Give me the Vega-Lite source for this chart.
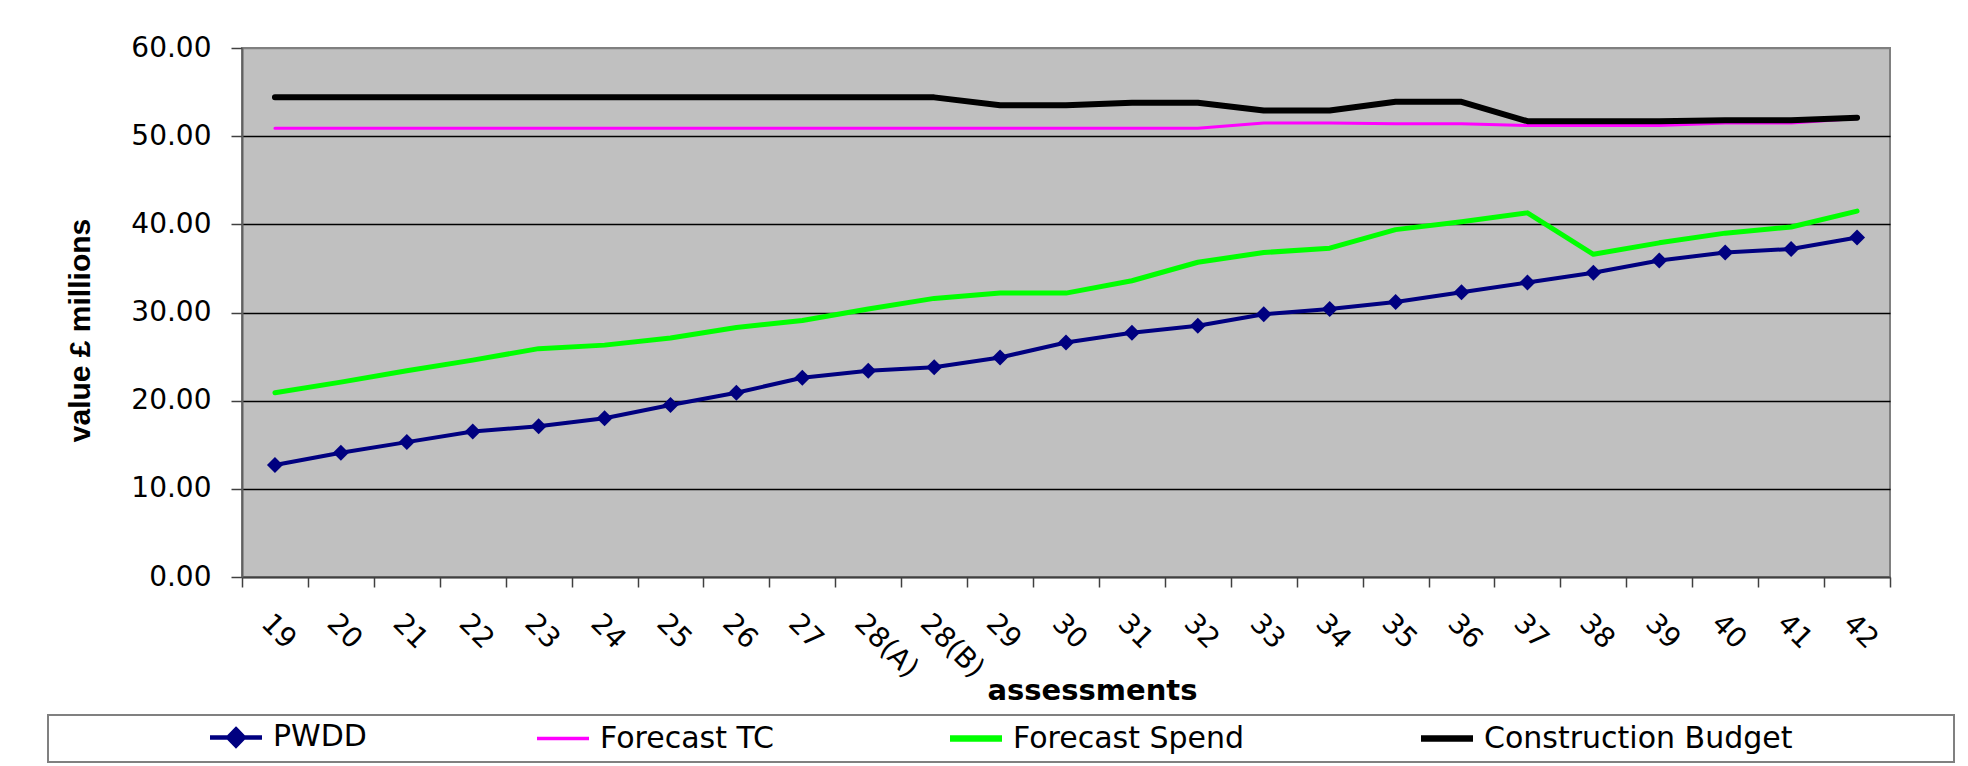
{
  "$schema": "https://vega.github.io/schema/vega-lite/v6.json",
  "width": 1648,
  "height": 529,
  "autosize": {"type": "none"},
  "padding": {"left": 242, "top": 48, "right": 78, "bottom": 189},
  "background": "white",
  "config": {
    "font": "DejaVu Sans",
    "view": {"fill": "#C0C0C0", "stroke": "#808080", "strokeWidth": 2}
  },
  "data": {
    "values": [
      {"a": "19", "s": "PWDD", "v": 12.7}, {"a": "20", "s": "PWDD", "v": 14.1}, {"a": "21", "s": "PWDD", "v": 15.3}, {"a": "22", "s": "PWDD", "v": 16.5}, {"a": "23", "s": "PWDD", "v": 17.1}, {"a": "24", "s": "PWDD", "v": 18.0}, {"a": "25", "s": "PWDD", "v": 19.5}, {"a": "26", "s": "PWDD", "v": 20.9}, {"a": "27", "s": "PWDD", "v": 22.6}, {"a": "28(A)", "s": "PWDD", "v": 23.4}, {"a": "28(B)", "s": "PWDD", "v": 23.8}, {"a": "29", "s": "PWDD", "v": 24.9}, {"a": "30", "s": "PWDD", "v": 26.6}, {"a": "31", "s": "PWDD", "v": 27.7}, {"a": "32", "s": "PWDD", "v": 28.5}, {"a": "33", "s": "PWDD", "v": 29.8}, {"a": "34", "s": "PWDD", "v": 30.4}, {"a": "35", "s": "PWDD", "v": 31.2}, {"a": "36", "s": "PWDD", "v": 32.3}, {"a": "37", "s": "PWDD", "v": 33.4}, {"a": "38", "s": "PWDD", "v": 34.5}, {"a": "39", "s": "PWDD", "v": 35.9}, {"a": "40", "s": "PWDD", "v": 36.8}, {"a": "41", "s": "PWDD", "v": 37.2}, {"a": "42", "s": "PWDD", "v": 38.5},
      {"a": "19", "s": "Forecast TC", "v": 50.9}, {"a": "20", "s": "Forecast TC", "v": 50.9}, {"a": "21", "s": "Forecast TC", "v": 50.9}, {"a": "22", "s": "Forecast TC", "v": 50.9}, {"a": "23", "s": "Forecast TC", "v": 50.9}, {"a": "24", "s": "Forecast TC", "v": 50.9}, {"a": "25", "s": "Forecast TC", "v": 50.9}, {"a": "26", "s": "Forecast TC", "v": 50.9}, {"a": "27", "s": "Forecast TC", "v": 50.9}, {"a": "28(A)", "s": "Forecast TC", "v": 50.9}, {"a": "28(B)", "s": "Forecast TC", "v": 50.9}, {"a": "29", "s": "Forecast TC", "v": 50.9}, {"a": "30", "s": "Forecast TC", "v": 50.9}, {"a": "31", "s": "Forecast TC", "v": 50.9}, {"a": "32", "s": "Forecast TC", "v": 50.9}, {"a": "33", "s": "Forecast TC", "v": 51.5}, {"a": "34", "s": "Forecast TC", "v": 51.5}, {"a": "35", "s": "Forecast TC", "v": 51.4}, {"a": "36", "s": "Forecast TC", "v": 51.4}, {"a": "37", "s": "Forecast TC", "v": 51.2}, {"a": "38", "s": "Forecast TC", "v": 51.2}, {"a": "39", "s": "Forecast TC", "v": 51.2}, {"a": "40", "s": "Forecast TC", "v": 51.5}, {"a": "41", "s": "Forecast TC", "v": 51.5}, {"a": "42", "s": "Forecast TC", "v": 52.0},
      {"a": "19", "s": "Forecast Spend", "v": 20.9}, {"a": "20", "s": "Forecast Spend", "v": 22.1}, {"a": "21", "s": "Forecast Spend", "v": 23.4}, {"a": "22", "s": "Forecast Spend", "v": 24.6}, {"a": "23", "s": "Forecast Spend", "v": 25.9}, {"a": "24", "s": "Forecast Spend", "v": 26.3}, {"a": "25", "s": "Forecast Spend", "v": 27.1}, {"a": "26", "s": "Forecast Spend", "v": 28.3}, {"a": "27", "s": "Forecast Spend", "v": 29.1}, {"a": "28(A)", "s": "Forecast Spend", "v": 30.4}, {"a": "28(B)", "s": "Forecast Spend", "v": 31.6}, {"a": "29", "s": "Forecast Spend", "v": 32.2}, {"a": "30", "s": "Forecast Spend", "v": 32.2}, {"a": "31", "s": "Forecast Spend", "v": 33.6}, {"a": "32", "s": "Forecast Spend", "v": 35.7}, {"a": "33", "s": "Forecast Spend", "v": 36.8}, {"a": "34", "s": "Forecast Spend", "v": 37.3}, {"a": "35", "s": "Forecast Spend", "v": 39.4}, {"a": "36", "s": "Forecast Spend", "v": 40.3}, {"a": "37", "s": "Forecast Spend", "v": 41.3}, {"a": "38", "s": "Forecast Spend", "v": 36.6}, {"a": "39", "s": "Forecast Spend", "v": 37.9}, {"a": "40", "s": "Forecast Spend", "v": 39.0}, {"a": "41", "s": "Forecast Spend", "v": 39.7}, {"a": "42", "s": "Forecast Spend", "v": 41.5},
      {"a": "19", "s": "Construction Budget", "v": 54.4}, {"a": "20", "s": "Construction Budget", "v": 54.4}, {"a": "21", "s": "Construction Budget", "v": 54.4}, {"a": "22", "s": "Construction Budget", "v": 54.4}, {"a": "23", "s": "Construction Budget", "v": 54.4}, {"a": "24", "s": "Construction Budget", "v": 54.4}, {"a": "25", "s": "Construction Budget", "v": 54.4}, {"a": "26", "s": "Construction Budget", "v": 54.4}, {"a": "27", "s": "Construction Budget", "v": 54.4}, {"a": "28(A)", "s": "Construction Budget", "v": 54.4}, {"a": "28(B)", "s": "Construction Budget", "v": 54.4}, {"a": "29", "s": "Construction Budget", "v": 53.5}, {"a": "30", "s": "Construction Budget", "v": 53.5}, {"a": "31", "s": "Construction Budget", "v": 53.8}, {"a": "32", "s": "Construction Budget", "v": 53.8}, {"a": "33", "s": "Construction Budget", "v": 52.9}, {"a": "34", "s": "Construction Budget", "v": 52.9}, {"a": "35", "s": "Construction Budget", "v": 53.9}, {"a": "36", "s": "Construction Budget", "v": 53.9}, {"a": "37", "s": "Construction Budget", "v": 51.7}, {"a": "38", "s": "Construction Budget", "v": 51.7}, {"a": "39", "s": "Construction Budget", "v": 51.7}, {"a": "40", "s": "Construction Budget", "v": 51.8}, {"a": "41", "s": "Construction Budget", "v": 51.8}, {"a": "42", "s": "Construction Budget", "v": 52.1}
    ]
  },
  "encoding": {
    "x": {
      "field": "a",
      "type": "nominal",
      "sort": null,
      "bandPosition": 0.5,
      "scale": {"type": "band", "paddingInner": 0, "paddingOuter": 0},
      "axis": {
        "title": "assessments",
        "titleFont": "DejaVu Sans",
        "titleFontSize": 29,
        "titleFontWeight": "bold",
        "titleColor": "black",
        "titleX": 850,
        "titleY": 122,
        "titleBaseline": "alphabetic",
        "labelAngle": 45,
        "labelAlign": "left",
        "labelBaseline": "top",
        "labelFontSize": 28,
        "labelColor": "black",
        "labelPadding": 22,
        "labelOverlap": false,
        "labelLimit": 0,
        "tickBand": "extent",
        "tickSize": 10,
        "tickColor": "#404040",
        "tickWidth": 1.5,
        "domainColor": "#404040",
        "domainWidth": 2,
        "grid": false
      }
    },
    "y": {
      "field": "v",
      "type": "quantitative",
      "scale": {"domain": [0, 60], "nice": false},
      "axis": {
        "title": "value £ millions",
        "titleFont": "Liberation Sans",
        "titleFontSize": 30,
        "titleFontWeight": "bold",
        "titleColor": "black",
        "titleAngle": -90,
        "titleBaseline": "middle",
        "titleX": -162,
        "titleY": 282,
        "values": [0, 10, 20, 30, 40, 50, 60],
        "format": ".2f",
        "labelFontSize": 28,
        "labelColor": "black",
        "labelPadding": 20,
        "tickSize": 11,
        "tickColor": "#404040",
        "tickWidth": 1.5,
        "domainColor": "#606060",
        "domainWidth": 2,
        "grid": true,
        "gridColor": {"condition": {"test": "datum.value === 60 || datum.value === 0", "value": "#808080"}, "value": "#000000"},
        "gridWidth": 1.5,
        "gridOpacity": 1
      }
    },
    "color": {
      "field": "s",
      "type": "nominal",
      "scale": {
        "domain": ["PWDD", "Forecast TC", "Forecast Spend", "Construction Budget"],
        "range": ["#000080", "#FF00FF", "#00FF00", "#000000"]
      },
      "legend": {
        "orient": "none",
        "direction": "horizontal",
        "legendX": -194,
        "legendY": 667,
        "title": "\u2800",
        "titleOrient": "left",
        "titleFontSize": 30,
        "titlePadding": 127,
        "padding": 7,
        "strokeColor": "#808080",
        "columnPadding": 163,
        "labelFontSize": 30,
        "labelColor": "black",
        "labelLimit": 0,
        "labelOffset": 22,
        "symbolOffset": 15,
        "symbolStrokeWidth": 2,
        "symbolType": "M-2,0L2,0",
        "symbolSize": 676,
        "labelExpr": "datum.value === 'Construction Budget' ? datum.label + '\u2800\u2800\u2800\u2800\u2800\u2800\u2800' : datum.label",
        "encode": {
          "legend": {"update": {"strokeWidth": {"value": 2}}},
          "symbols": {
            "update": {
              "shape": {"signal": "datum.value === 'PWDD' ? 'M-2,0L2,0M0,-0.62L0.6,0L0,0.62L-0.6,0Z' : 'M-2,0L2,0'"},
              "strokeWidth": {"signal": "datum.value === 'PWDD' ? 4.5 : datum.value === 'Forecast TC' ? 3.5 : 6.5"},
              "fill": {"signal": "datum.value === 'PWDD' ? '#000080' : 'transparent'"},
              "stroke": {"signal": "scale('color', datum.value)"},
              "opacity": {"value": 1},
              "size": {"value": 676}
            }
          }
        }
      }
    }
  },
  "layer": [
    {
      "transform": [{"filter": "datum.s === 'PWDD'"}],
      "mark": {"type": "line", "strokeWidth": 4, "strokeJoin": "round", "strokeCap": "round"}
    },
    {
      "transform": [{"filter": "datum.s === 'PWDD'"}],
      "mark": {"type": "point", "shape": "diamond", "filled": true, "size": 256, "opacity": 1}
    },
    {
      "transform": [{"filter": "datum.s === 'Forecast TC'"}],
      "mark": {"type": "line", "strokeWidth": 3, "strokeJoin": "round", "strokeCap": "round"}
    },
    {
      "transform": [{"filter": "datum.s === 'Forecast Spend'"}],
      "mark": {"type": "line", "strokeWidth": 5, "strokeJoin": "round", "strokeCap": "round"}
    },
    {
      "transform": [{"filter": "datum.s === 'Construction Budget'"}],
      "mark": {"type": "line", "strokeWidth": 6, "strokeJoin": "round", "strokeCap": "round"}
    }
  ]
}
